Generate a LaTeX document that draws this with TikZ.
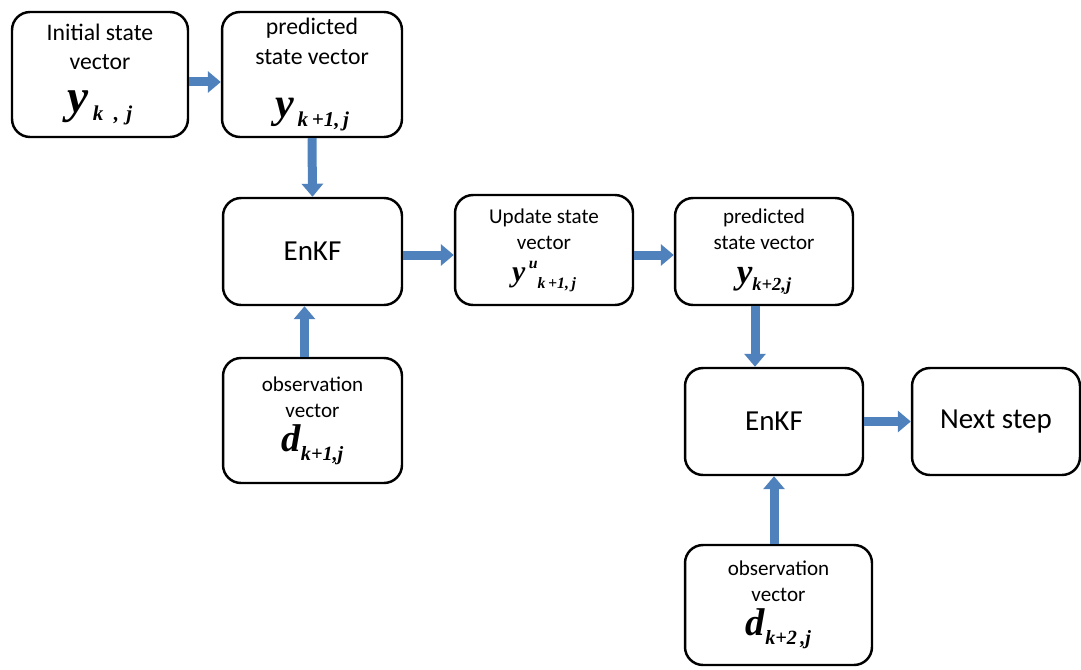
\documentclass[tikz,border=0pt]{standalone}
\usepackage{fontspec}
\setmainfont{Carlito}
\newfontfamily\tmsfont{Liberation Serif}
\usetikzlibrary{arrows.meta,positioning}
\definecolor{flowblue}{RGB}{79,129,189}
\newcommand{\symb}[2]{{\tmsfont\bfseries\itshape\fontsize{#1}{#1}\selectfont #2}}
\tikzset{
  blk/.style={
    draw,
    line width=1.4pt,
    rounded corners=0.36cm,
    align=center,
    inner sep=0pt
  },
  flow/.style={
    flowblue,
    line width=0.18cm,
    -{Triangle[width=0.42cm,length=0.26cm]}
  },
  txtbig/.style={font=\fontsize{13.5}{17}\selectfont},
  txtmid/.style={font=\fontsize{12}{15}\selectfont},
  txthuge/.style={font=\fontsize{16.5}{20}\selectfont}
}

\begin{document}
\begin{tikzpicture}[x=0.02cm,y=-0.02cm]
  \useasboundingbox (0,0) rectangle (1081,669);
  % boxes
  \node[blk, txtbig, minimum width=3.52cm, minimum height=2.5cm] (init) at (100,74.5)
    {Initial state\\vector\\[7pt]\symb{27}{y}\,\raisebox{-5pt}{\symb{12}{k\,\,\,,\,\,j}}};
  \node[blk, txtbig, minimum width=3.6cm, minimum height=2.5cm] (pred) at (312,74.5)
    {predicted\\state vector\\[13pt]\symb{24}{y}\,\raisebox{-5pt}{\symb{12}{k\,+1,\,j}}};
  \node[blk, txthuge, minimum width=3.58cm, minimum height=2.14cm] (enkf) at (312.5,251.5) {EnKF};
  \node[blk, txtmid, minimum width=3.58cm, minimum height=2.5cm] (obs) at (312.5,420.5)
    {observation\\vector\\[3pt]\symb{22}{d}\raisebox{-5pt}{\symb{11.5}{k+1,j}}};
  \node[blk, txtmid, minimum width=3.56cm, minimum height=2.2cm] (upd) at (544,250)
    {Update state\\vector\\[3pt]\symb{17}{y}\,\raisebox{7pt}{\symb{9}{u}}\raisebox{-4pt}{\symb{9}{k\,+1,\,j}}};
  \node[blk, txtmid, minimum width=3.56cm, minimum height=2.14cm] (predb) at (764,251.5)
    {predicted\\state vector\\[4pt]\symb{20}{y}\raisebox{-4pt}{\symb{10.5}{k+2,j}}};
  \node[blk, txthuge, minimum width=3.56cm, minimum height=2.14cm] (enkfb) at (774,421.5) {EnKF};
  \node[blk, txthuge, minimum width=3.36cm, minimum height=2.14cm] (next) at (996,421.5) {Next step};
  \node[blk, txtmid, minimum width=3.74cm, minimum height=2.4cm] (obsb) at (778.5,605)
    {observation\\vector\\[3pt]\symb{22}{d}\raisebox{-5pt}{\symb{11.5}{k+2\,,j}}};
  % arrows
  \draw[flow] ([yshift=-0.15cm]init.east) -- ([yshift=-0.15cm]init.east -| pred.west);
  \draw[flow] (pred.south) -- (enkf.north);
  \draw[flow] ([xshift=-0.16cm]obs.north) -- ([xshift=-0.16cm]obs.north |- enkf.south);
  \draw[flow] ([yshift=-0.07cm]enkf.east) -- ([yshift=-0.07cm]enkf.east -| upd.west);
  \draw[flow] ([yshift=-0.1cm]upd.east) -- ([yshift=-0.1cm]upd.east -| predb.west);
  \draw[flow] ([xshift=-0.18cm]predb.south) -- ([xshift=-0.18cm]predb.south |- enkfb.north);
  \draw[flow] (obsb.north -| enkfb.south) -- (enkfb.south);
  \draw[flow] (enkfb.east) -- (next.west);
\end{tikzpicture}
\end{document}
